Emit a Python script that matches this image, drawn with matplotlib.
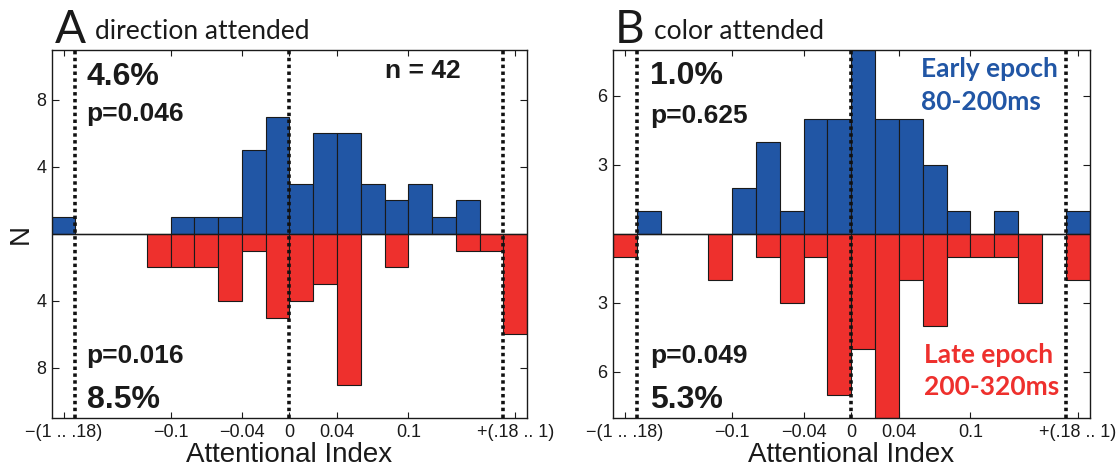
import matplotlib
matplotlib.use("Agg")
import matplotlib.pyplot as plt
import numpy as np

# ---- data ----
bin_centers = [-0.19, -0.17, -0.15, -0.13, -0.11, -0.09, -0.07, -0.05, -0.03, -0.01,
               0.01, 0.03, 0.05, 0.07, 0.09, 0.11, 0.13, 0.15, 0.17, 0.19]
# panel A: direction attended
dir_early = [1, 0, 0, 0, 0, 1, 1, 1, 5, 7, 3, 6, 6, 3, 2, 3, 1, 2, 0, 0]
dir_late = [0, 0, 0, 0, 2, 2, 2, 4, 1, 5, 4, 3, 9, 0, 2, 0, 0, 1, 1, 6]
# panel B: color attended
col_early = [0, 1, 0, 0, 0, 2, 4, 1, 5, 5, 8, 5, 5, 3, 1, 0, 1, 0, 0, 1]
col_late = [1, 0, 0, 0, 2, 0, 1, 3, 1, 7, 5, 8, 2, 4, 1, 1, 1, 3, 0, 2]

xtick_pos = [-0.19, -0.1, -0.04, 0, 0.04, 0.1, 0.19]
xtick_labels = ['\u2212(1 .. .18)', '\u22120.1', '\u22120.04', '0', '0.04', '0.1', '+(.18 .. 1)']

BLUE = '#2156A5'
RED = '#EE302D'
W, H = 1120, 468

plt.rcParams['font.family'] = ['Liberation Sans', 'DejaVu Sans']

fig = plt.figure(figsize=(W / 100, H / 100), dpi=100)


def px_axes(x0, x1, ytop, ybot):
    return fig.add_axes([x0 / W, (H - ybot) / H, (x1 - x0) / W, (ybot - ytop) / H])


def draw_panel(ax, early, late, ylim, yticks):
    ax.bar(bin_centers, early, width=0.02, color=BLUE, edgecolor='#1a1a1a', linewidth=0.8, zorder=2)
    ax.bar(bin_centers, [-v for v in late], width=0.02, color=RED, edgecolor='#1a1a1a', linewidth=0.8, zorder=2)
    ax.axhline(0, color='#1a1a1a', lw=1.0, zorder=3)
    for xv in (-0.18, 0.0, 0.18):
        ax.axvline(xv, color='#111111', lw=2.6, linestyle=(0, (0.95, 0.95)), zorder=4)
    ax.set_xlim(-0.2, 0.2)
    ax.set_ylim(-ylim, ylim)
    ax.set_yticks(yticks)
    ax.set_yticklabels([str(abs(t)) for t in yticks])
    ax.set_xticks(xtick_pos)
    ax.set_xticklabels(xtick_labels)
    ax.tick_params(direction='in', top=True, right=True, length=4, width=0.8,
                   labelsize=13, pad=4, colors='#1a1a1a')
    ax.tick_params(axis='y', length=5)
    for s in ax.spines.values():
        s.set_linewidth(1.0)
        s.set_color('#1a1a1a')
    ax.set_xlabel('Attentional Index', fontsize=20, labelpad=1, color='#1a1a1a')


axA = px_axes(51.7, 527.2, 49.5, 418)
draw_panel(axA, dir_early, dir_late, 11, [-8, -4, 4, 8])
axA.set_ylabel('N', fontsize=20, labelpad=2, color='#1a1a1a')

axB = px_axes(613, 1089.5, 49.5, 418)
draw_panel(axB, col_early, col_late, 8, [-6, -3, 3, 6])

bold = dict(fontweight='bold', color='#1a1a1a', va='baseline', ha='left')
BIG, MID = 23, 19
axA.text(0.0736, 0.9037, '4.6%', transform=axA.transAxes, fontsize=BIG, **bold)
axA.text(0.0736, 0.806, 'p=0.046', transform=axA.transAxes, fontsize=MID, **bold)
axA.text(0.701, 0.9235, 'n = 42', transform=axA.transAxes, fontsize=MID, **bold)
axA.text(0.0736, 0.1484, 'p=0.016', transform=axA.transAxes, fontsize=MID, **bold)
axA.text(0.0736, 0.0263, '8.5%', transform=axA.transAxes, fontsize=BIG, **bold)

axB.text(0.0776, 0.9055, '1.0%', transform=axB.transAxes, fontsize=BIG, **bold)
axB.text(0.0776, 0.7997, 'p=0.625', transform=axB.transAxes, fontsize=MID, **bold)
axB.text(0.0776, 0.1484, 'p=0.049', transform=axB.transAxes, fontsize=MID, **bold)
axB.text(0.0776, 0.0263, '5.3%', transform=axB.transAxes, fontsize=BIG, **bold)

epoch = dict(fontweight='bold', va='baseline', ha='left', fontsize=19, family=['Lato', 'DejaVu Sans'])
axB.text(0.646, 0.9246, 'Early epoch', transform=axB.transAxes, color=BLUE, **epoch)
axB.text(0.646, 0.836, '80-200ms', transform=axB.transAxes, color=BLUE, **epoch)
axB.text(0.652, 0.1484, 'Late epoch', transform=axB.transAxes, color=RED, **epoch)
axB.text(0.652, 0.0624, '200-320ms', transform=axB.transAxes, color=RED, **epoch)

title_font = ['Lato', 'DejaVu Sans']
fig.text(55 / W, (H - 43) / H, 'A', fontsize=33, family=title_font, color='#1a1a1a', va='baseline')
fig.text(95 / W, (H - 39.3) / H, 'direction attended', fontsize=19, family=title_font, color='#1a1a1a', va='baseline')
fig.text(615 / W, (H - 42.7) / H, 'B', fontsize=33, family=title_font, color='#1a1a1a', va='baseline')
fig.text(654 / W, (H - 39.3) / H, 'color attended', fontsize=19, family=title_font, color='#1a1a1a', va='baseline')

fig.savefig('out.png', dpi=100)
